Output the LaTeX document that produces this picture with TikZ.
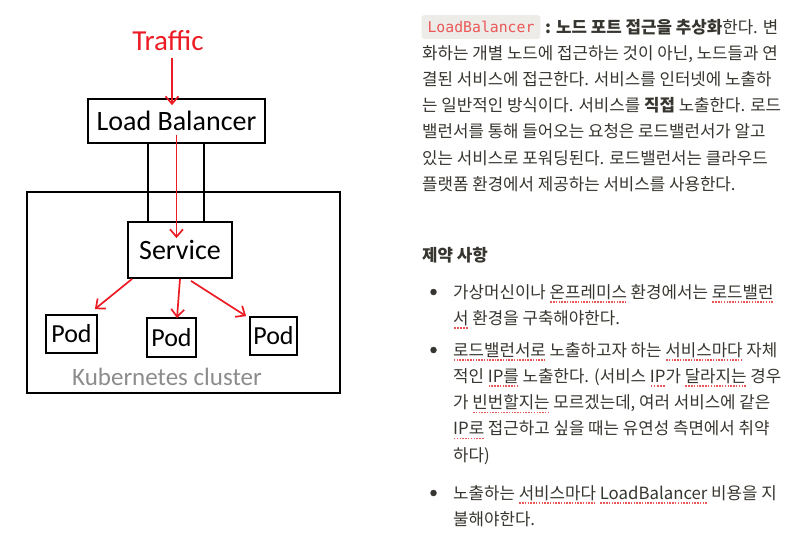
\documentclass[tikz,border=0pt]{standalone}
\usepackage{fontspec}
\setmainfont{Noto Sans CJK KR}
\newfontfamily\handfont{Carlito}
\newfontfamily\codefont{DejaVu Sans Mono}
\usetikzlibrary{arrows.meta}
\definecolor{sketchred}{RGB}{236,28,36}
\definecolor{notered}{RGB}{235,87,87}
\definecolor{codebg}{RGB}{237,236,233}
\definecolor{bodytext}{RGB}{55,53,47}
\definecolor{clustergray}{RGB}{140,140,140}
% red dotted spell-check underline
\newcommand\spell[1]{\setbox0=\hbox{#1}\rlap{\raisebox{-4.5pt}[0pt][0pt]{\color{notered}\hbox to\wd0{\xleaders\hbox{\kern0.6pt\vrule width1.5pt height1.5pt\kern0.6pt}\hfil}}}\box0\relax}

\begin{document}
\begin{tikzpicture}[x=1pt,y=-1pt,
    sketch/.style={draw,line width=1.8pt,inner sep=0pt,font=\handfont\fontsize{28}{28}\selectfont},
    podbox/.style={sketch,font=\handfont\fontsize{26}{26}\selectfont},
    wire/.style={line width=1.6pt},
    flow/.style={sketchred,line width=1.7pt,-{Straight Barb[length=7.5pt,width=13pt]}},
    para/.style={anchor=base west,inner sep=0pt,text=bodytext,font=\fontsize{16.8}{16.8}\selectfont},
    bullet/.style={circle,fill=bodytext,inner sep=0pt,minimum size=6.5pt}]
  \useasboundingbox (0,0) rectangle (803,549);

  % sketch on the left
  \node[draw,line width=1.8pt,minimum width=313pt,minimum height=201pt] (cluster) at (183.5,292.5) {};
  \node[text=clustergray,font=\handfont\fontsize{25}{25}\selectfont] (clusterlabel) at (167,377) {Kubernetes cluster};
  \node[text=sketchred,font=\handfont\fontsize{29}{29}\selectfont] (traffic) at (168,41) {Traffic};
  \node[sketch,minimum width=177pt,minimum height=44pt] (lb) at (176.5,121) {Load Balancer};
  \node[sketch,minimum width=104pt,minimum height=56pt] (svc) at (180,250) {Service};
  \node[podbox,minimum width=51pt,minimum height=38pt] (pod1) at (71.5,334) {Pod};
  \node[podbox,minimum width=49pt,minimum height=39pt] (pod2) at (171.5,337.5) {Pod};
  \node[podbox,minimum width=47pt,minimum height=38pt] (pod3) at (273.5,336) {Pod};

  \draw[wire] ([xshift=-28.5pt]lb.south) -- ([xshift=-28.5pt]lb.south |- svc.north);
  \draw[wire] ([xshift=27.5pt]lb.south) -- ([xshift=27.5pt]lb.south |- svc.north);
  \draw[flow] ([xshift=4pt,yshift=-3pt]traffic.south) -- ([xshift=4pt,yshift=-7pt]traffic.south |- lb.north);
  \draw[flow] ([yshift=9pt]lb.south) -- ([yshift=-17pt]lb.south |- svc.north);
  \draw[flow] ([xshift=5pt]svc.south west) -- ([xshift=-3pt,yshift=5pt]pod1.north east);
  \draw[flow] (svc.south) -- ([xshift=-3pt,yshift=-1pt]svc.south |- pod2.north);
  \draw[flow] ([xshift=11pt,yshift=-2pt]svc.south) -- ([xshift=-3pt]pod3.north west);

  % text on the right
  \node[fill=codebg,rounded corners=3pt,inner xsep=6pt,minimum height=24pt,text=notered,
        font=\codefont\fontsize{14.8}{14.8}\selectfont] (lbcode) at (481,27) {LoadBalancer};
  \node[para] (p1) at (545,33) {{\bfseries : 노드 포트 접근을 추상화}한다. 변};
  \node[para] (p2) at (422,59.2) {화하는 개별 노드에 접근하는 것이 아닌, 노드들과 연};
  \node[para] (p3) at (422,85.4) {결된 서비스에 접근한다. 서비스를 인터넷에 노출하};
  \node[para] (p4) at (422,111.6) {는 일반적인 방식이다. 서비스를 {\bfseries 직접} 노출한다. 로드};
  \node[para] (p5) at (422,137.8) {밸런서를 통해 들어오는 요청은 로드밸런서가 알고};
  \node[para] (p6) at (422,164) {있는 서비스로 포워딩된다. 로드밸런서는 클라우드};
  \node[para] (p7) at (422,190.2) {플랫폼 환경에서 제공하는 서비스를 사용한다.};

  \node[para,font=\bfseries\fontsize{16.8}{16.8}\selectfont] (limits) at (422,261) {제약 사항};

  \foreach \y [count=\i] in {292,350,493}
    \node[bullet] (dot\i) at (433.5,\y) {};
  \node[para] (a1) at (453,298) {가상머신이나 \spell{온프레미스} 환경에서는 \spell{로드밸런}};
  \node[para] (a2) at (453,324) {\spell{서} 환경을 구축해야한다.};
  \node[para] (b1) at (453,356) {\spell{로드밸런서로} 노출하고자 하는 \spell{서비스마다} 자체};
  \node[para] (b2) at (453,382.3) {적인 \spell{IP를} 노출한다. (서비스 \spell{IP}가 \spell{달라지는} 경우};
  \node[para] (b3) at (453,408.6) {가 \spell{빈번할지는} 모르겠는데, 여러 서비스에 같은};
  \node[para] (b4) at (453,434.9) {\spell{IP로} 접근하고 싶을 때는 유연성 측면에서 취약};
  \node[para] (b5) at (453,461.2) {하다)};
  \node[para] (c1) at (453,499) {노출하는 \spell{서비스마다} \spell{LoadBalancer} 비용을 지};
  \node[para] (c2) at (453,525) {불해야한다.};
\end{tikzpicture}
\end{document}
